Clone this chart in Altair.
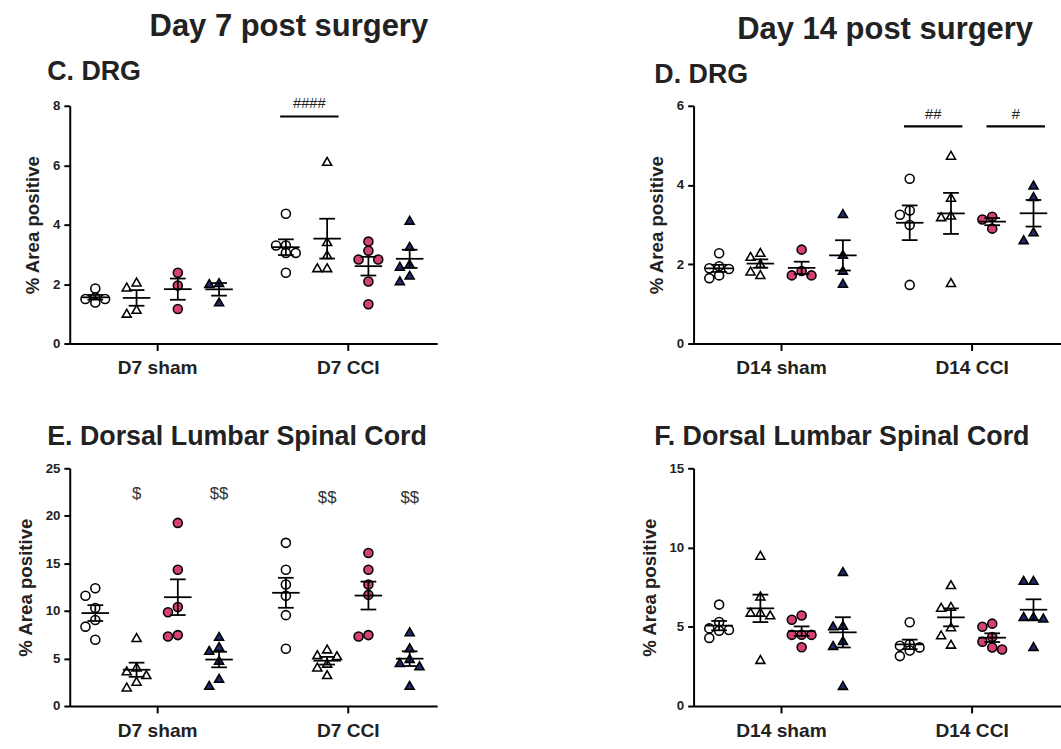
import altair as alt
import pandas as pd

FONT = "Liberation Sans"
GROUPS = ["open circle", "open triangle", "pink circle", "navy triangle"]
SHAPES = ["circle", "triangle-up", "circle", "triangle-up"]
FILLS = ["white", "white", "#d5426f", "#1e2a6c"]

CATS_D7 = ["D7 sham", "D7 CCI"]
CATS_D14 = ["D14 sham", "D14 CCI"]

# Each list: [open circle, open triangle, pink circle, navy triangle]
C_SHAM = [[1.85, 1.55, 1.5, 1.5, 1.38], [2.07, 1.9, 1.15, 1.02], [2.38, 1.95, 1.16], [2.05, 2.02, 1.4]]
C_CCI = [[4.37, 3.3, 3.3, 3.05, 3.05, 2.38], [6.13, 3.43, 2.99, 2.55, 2.55],
         [3.43, 3.12, 2.83, 2.83, 2.09, 1.32], [4.15, 3.27, 2.68, 2.6, 2.3, 2.11]]
D_SHAM = [[2.28, 1.95, 1.9, 1.88, 1.72, 1.65], [2.3, 2.2, 2.02, 1.83, 1.74],
          [2.37, 1.83, 1.72, 1.72], [3.28, 2.25, 1.85, 1.52]]
D_CCI = [[4.16, 3.36, 3.25, 2.99, 1.48], [4.75, 3.69, 3.24, 3.2, 1.54],
         [3.2, 3.13, 2.9], [4.0, 3.71, 2.82, 2.62]]
E_SHAM = [[12.38, 11.59, 10.31, 9.04, 8.35, 6.98], [7.2, 4.1, 3.7, 3.3, 2.6, 2.0],
          [19.26, 14.34, 10.42, 9.87, 7.46, 7.32], [7.32, 6.26, 5.85, 4.81, 2.92, 2.17]]
E_CCI = [[17.16, 14.34, 12.79, 11.59, 9.56, 6.02], [6.0, 5.4, 5.3, 4.5, 4.1, 3.3],
         [16.1, 14.34, 12.79, 11.69, 7.46, 7.32], [7.81, 6.12, 4.99, 4.57, 4.23, 2.17]]
F_SHAM = [[6.4, 5.3, 4.9, 4.8, 4.75, 4.3], [9.51, 6.94, 5.92, 5.92, 5.75, 2.94],
          [5.71, 5.45, 4.5, 4.49, 4.49, 3.71], [8.49, 5.1, 5.06, 4.13, 3.82, 1.3]]
F_CCI = [[5.29, 3.9, 3.8, 3.7, 3.5, 3.15], [7.66, 6.29, 6.23, 5.0, 4.49, 3.9],
         [5.2, 5.0, 4.36, 4.06, 3.69, 3.57], [7.93, 7.93, 5.65, 5.55, 5.65, 3.76]]

# significance bars: (category index, first group, last group, bar level, label, label level)
C_SIG = [(1, 0, 1, 7.64, "####", 8.1)]
D_SIG = [(1, 0, 1, 5.48, "##", 5.8), (1, 2, 3, 5.48, "#", 5.8)]
E_MARKS = [(0, 1, "$", 22.3), (0, 3, "$$", 22.3), (1, 1, "$$", 21.9), (1, 3, "$$", 21.9)]

W, H = 374, 242
PX_X = 194.0                 # pixels per category unit
X_DOMAIN = [-89 / PX_X, (W - 89) / PX_X]
GSTEP = 42 / PX_X


def gpos(cat, g):
    return cat + (g - 1.5) * GSTEP


def dodge(vals, px_y, slot=10.0):
    placed, res = [], [0.0] * len(vals)
    order = sorted(range(len(vals)), key=lambda i: -vals[i])
    for i in order:
        yp = vals[i] * px_y
        best_k, best_d = 0, -1.0
        for k in [0, -1, 1]:
            xp = k * slot
            md = min([((xp - a) ** 2 + (yp - b) ** 2) ** 0.5 for a, b in placed] or [1e9])
            if md >= 0.9 * slot:
                best_k, best_d = k, md
                break
            if md > best_d:
                best_k, best_d = k, md
        placed.append((best_k * slot, yp))
        res[i] = best_k * slot / PX_X
    return res


def build_points(sham, cci, ymax):
    rows = []
    px_y = H / ymax
    for cat, groups in enumerate([sham, cci]):
        for g, vals in enumerate(groups):
            offs = dodge(vals, px_y)
            gx = gpos(cat, g)
            for v, o in zip(vals, offs):
                rows.append({"grp": GROUPS[g], "value": v, "xp": gx + o, "gx": gx})
    return pd.DataFrame(rows)


def make_panel(sham, cci, cats, ymax, ystep, title, tdx, sig=None, marks=None):
    d = build_points(sham, cci, ymax)
    xscale = alt.Scale(domain=X_DOMAIN, nice=False, zero=False)
    yscale = alt.Scale(domain=[0, ymax], nice=False, zero=True)
    xaxis = alt.Axis(values=[0, 1], labelExpr=f"datum.value == 0 ? '{cats[0]}' : '{cats[1]}'",
                     title=None, labelFontSize=19.5, labelFontWeight="bold", labelPadding=9,
                     tickSize=7, grid=False, labelFont=FONT, labelColor="#222")
    yaxis = alt.Axis(values=list(range(0, ymax + 1, ystep)), title="% Area positive",
                     titleFontSize=19, titleFontWeight="bold", titleFont=FONT, titleColor="#222",
                     labelFontSize=13.5, labelFontWeight="bold", labelFont=FONT, labelColor="#222",
                     tickSize=6, labelPadding=4, titlePadding=10, grid=False)

    def X(f):
        return alt.X(f, scale=xscale, axis=xaxis)

    def Y(f):
        return alt.Y(f, scale=yscale, axis=yaxis)

    pts = alt.Chart(d).mark_point(filled=True, size=84, stroke="black", strokeWidth=1.6, opacity=1).encode(
        x=X("xp:Q"), y=Y("value:Q"),
        shape=alt.Shape("grp:N", scale=alt.Scale(domain=GROUPS, range=SHAPES), legend=None),
        fill=alt.Fill("grp:N", scale=alt.Scale(domain=GROUPS, range=FILLS), legend=None),
    )
    stats = alt.Chart(d).transform_aggregate(
        mean="mean(value)", sem="stderr(value)", groupby=["gx", "grp"]
    ).transform_calculate(lo="datum.mean - datum.sem", hi="datum.mean + datum.sem")
    mean_t = stats.mark_tick(orient="horizontal", size=28, thickness=1.8, color="black", opacity=1).encode(
        x=X("gx:Q"), y=Y("mean:Q"))
    rule = stats.mark_rule(color="black", strokeWidth=1.8).encode(x=X("gx:Q"), y=Y("lo:Q"), y2="hi:Q")
    lo_t = stats.mark_tick(orient="horizontal", size=16, thickness=1.8, color="black", opacity=1).encode(
        x=X("gx:Q"), y=Y("lo:Q"))
    hi_t = stats.mark_tick(orient="horizontal", size=16, thickness=1.8, color="black", opacity=1).encode(
        x=X("gx:Q"), y=Y("hi:Q"))
    layers = [pts, rule, lo_t, hi_t, mean_t]

    if sig:
        sd = pd.DataFrame([{"x1": gpos(c, a) - 0.03, "x2": gpos(c, b) + 0.06,
                            "xm": (gpos(c, a) + gpos(c, b)) / 2 + 0.015,
                            "y": yv, "label": lab, "ly": ly} for c, a, b, yv, lab, ly in sig])
        layers.append(alt.Chart(sd).mark_rule(color="black", strokeWidth=2.2).encode(
            x=X("x1:Q"), x2="x2:Q", y=Y("y:Q")))
        layers.append(alt.Chart(sd).mark_text(fontSize=15, font=FONT, color="#222", baseline="middle").encode(
            x=X("xm:Q"), y=Y("ly:Q"), text="label:N"))
    if marks:
        md = pd.DataFrame([{"x": gpos(c, g), "y": yv, "label": lab} for c, g, lab, yv in marks])
        layers.append(alt.Chart(md).mark_text(fontSize=17, font=FONT, color="#333", baseline="middle").encode(
            x=X("x:Q"), y=Y("y:Q"), text="label:N"))

    return alt.layer(*layers).properties(
        width=W, height=H,
        title=alt.Title(title, anchor="start", frame="group", dx=tdx, fontSize=27.3, fontWeight="bold",
                        font=FONT, color="#222", offset=11),
    )


pC = make_panel(C_SHAM, C_CCI, CATS_D7, 8, 2, "C. DRG", -23, sig=C_SIG)
pD = make_panel(D_SHAM, D_CCI, CATS_D14, 6, 2, "D. DRG", -40, sig=D_SIG)
pE = make_panel(E_SHAM, E_CCI, CATS_D7, 25, 5, "E. Dorsal Lumbar Spinal Cord", -23, marks=E_MARKS)
pF = make_panel(F_SHAM, F_CCI, CATS_D14, 15, 5, "F. Dorsal Lumbar Spinal Cord", -40)

left = alt.vconcat(pC, pE, spacing=46, title=alt.Title("Day 7 post surgery", fontSize=31.5, fontWeight="bold",
                                                        font=FONT, color="#222", anchor="middle", dx=63,
                                                        offset=16))
right = alt.vconcat(pD, pF, spacing=46, title=alt.Title("Day 14 post surgery", fontSize=31.5, fontWeight="bold",
                                                         font=FONT, color="#222", anchor="middle", dx=35,
                                                         offset=16))

chart = alt.hconcat(left, right, spacing=206).configure_view(stroke=None).configure_axis(
    domainColor="black", domainWidth=2, tickColor="black", tickWidth=2
).properties(padding={"left": 16, "top": 5, "right": 0, "bottom": 0}, background="white")

chart.save("out.html", embed_options={"renderer": "svg", "actions": False})
